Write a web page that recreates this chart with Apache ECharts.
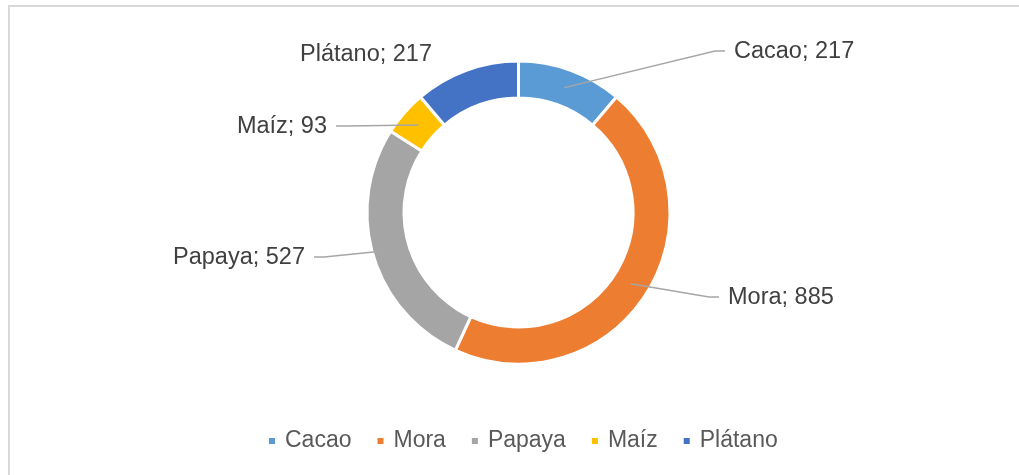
<!DOCTYPE html>
<html>
<head>
<meta charset="utf-8">
<script src="https://cdn.jsdelivr.net/npm/echarts@6/dist/echarts.min.js"></script>
<style>
  html, body { margin: 0; padding: 0; background: #ffffff; overflow: hidden; width: 1019px; height: 475px; }
  #chart { position: absolute; left: 0; top: 0; width: 1019px; height: 475px; }
  #frame { position: absolute; left: 8px; top: 5px; width: 1011px; height: 470px; box-sizing: border-box;
           border-top: 2px solid #d9d9d9; border-left: 2px solid #d9d9d9; pointer-events: none; }
</style>
</head>
<body>
<div id="chart"></div>
<div id="frame"></div>
<script>
// ---- data ----
const categories = ['Cacao', 'Mora', 'Papaya', 'Maíz', 'Plátano'];
const values = [217, 885, 527, 93, 217];
const colors = ['#5b9bd5', '#ed7d31', '#a5a5a5', '#ffc000', '#4472c4'];
const showLeader = [true, true, true, true, false];

// ---- label placement (layout, not data) ----
const labelAnchors = [
  [734, 52, 'left'],
  [728, 298, 'left'],
  [305, 258, 'right'],
  [327, 127, 'right'],
  [432, 55, 'right']
];

const CX = 518.5, CY = 212.5;
const R_IN = 114.5, R_OUT = 151.5;
const R_MID = 133;

const chart = echarts.init(document.getElementById('chart'), null, { renderer: 'canvas' });

function layoutLabel(params) {
  const i = params.dataIndex;
  const a = labelAnchors[i];
  const res = { x: a[0], y: a[1], align: a[2], verticalAlign: 'middle' };
  const pts = params.labelLinePoints;
  if (pts && pts.length) {
    const dx = pts[0][0] - CX, dy = pts[0][1] - CY;
    const len = Math.sqrt(dx * dx + dy * dy) || 1;
    const start = [CX + dx / len * R_MID, CY + dy / len * R_MID];
    const sign = a[2] === 'left' ? -1 : 1;
    const end = [a[0] + sign * 9, a[1] - 1];
    const bend = [a[0] + sign * 19, a[1] - 1];
    res.labelLinePoints = [start, bend, end];
  }
  return res;
}

const option = {
  animation: false,
  color: colors,
  legend: {
    data: categories,
    left: 267,
    top: 428,
    padding: 0,
    icon: 'rect',
    itemWidth: 8,
    itemHeight: 8,
    itemGap: 24,
    textStyle: { fontFamily: 'Liberation Sans', fontSize: 23, color: '#595959', padding: [0, 0, 0, 4], lineHeight: 26 }
  },
  series: [{
    type: 'pie',
    z: 2,
    center: [CX, CY],
    radius: [R_IN, R_OUT],
    startAngle: 90,
    clockwise: true,
    avoidLabelOverlap: false,
    itemStyle: { borderColor: '#ffffff', borderWidth: 3 },
    label: { show: false },
    labelLine: { show: false },
    data: categories.map((c, i) => ({ name: c, value: values[i] }))
  }, {
    // overlay carrying the data labels and leader lines above the ring
    type: 'pie',
    z: 5,
    silent: true,
    legendHoverLink: false,
    center: [CX, CY],
    radius: [R_IN, R_OUT],
    startAngle: 90,
    clockwise: true,
    avoidLabelOverlap: false,
    itemStyle: { color: 'rgba(0,0,0,0)', borderWidth: 0 },
    label: {
      show: true,
      position: 'outside',
      formatter: '{b}; {c}',
      fontFamily: 'Liberation Sans',
      fontSize: 23.5,
      color: '#404040'
    },
    labelLine: {
      show: true,
      length: 10,
      length2: 10,
      smooth: false,
      lineStyle: { color: '#a6a6a6', width: 1.5 }
    },
    labelLayout: layoutLabel,
    data: categories.map((c, i) => ({
      name: c,
      value: values[i],
      labelLine: { show: showLeader[i] }
    }))
  }]
};

chart.setOption(option);
</script>
</body>
</html>
